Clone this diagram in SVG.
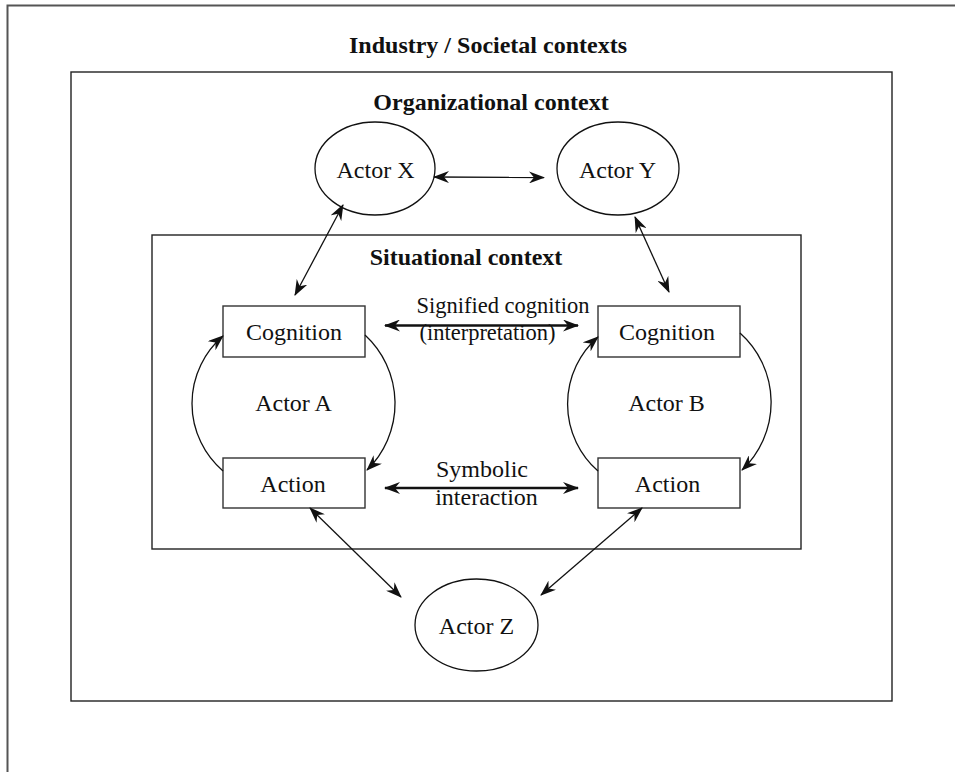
<svg xmlns="http://www.w3.org/2000/svg" width="955" height="772" viewBox="0 0 955 772">
<defs>
<style>
.frame{fill:none;stroke:#555;stroke-width:2}
.ctx{fill:none;stroke:#222;stroke-width:1.4}
.box{fill:#fff;stroke:#333;stroke-width:1.4}
.ell{fill:#fff;stroke:#111;stroke-width:1.3}
.t{font-family:"Liberation Serif","Times New Roman",serif;font-size:24px;fill:#111;text-anchor:middle}
.s{font-size:22.5px}
.b{font-weight:bold}
.c{fill:none;stroke:#111;stroke-width:1.3}
.thick{stroke-width:2.6}
</style>
<marker id="ah" viewBox="0 0 16 12" refX="15" refY="6" markerWidth="16" markerHeight="12" markerUnits="userSpaceOnUse" orient="auto-start-reverse">
<path d="M0,0 L16,6 L0,12 L5,6 z" fill="#111"/>
</marker>
</defs>
<rect width="955" height="772" fill="#fff"/>
<g id="industry">
<rect class="frame" x="7.5" y="5.5" width="960" height="800"/>
<text class="t b" x="488" y="53">Industry / Societal contexts</text>
</g>
<g id="organizational">
<rect class="ctx" x="71" y="72" width="821" height="629"/>
<text class="t b" x="491" y="110">Organizational context</text>
</g>
<g id="situational">
<rect class="ctx" x="152" y="235" width="649" height="314"/>
<text class="t b" x="466" y="265">Situational context</text>
</g>
<g id="actorX">
<ellipse class="ell" cx="375" cy="168.5" rx="60" ry="46.5"/>
<text class="t" x="375.5" y="178">Actor X</text>
</g>
<g id="actorY">
<ellipse class="ell" cx="618" cy="168.5" rx="61" ry="46.5"/>
<text class="t" x="617.5" y="178">Actor Y</text>
</g>
<g id="actorZ">
<ellipse class="ell" cx="476.5" cy="625" rx="61.5" ry="46"/>
<text class="t" x="476.5" y="634">Actor Z</text>
</g>
<g id="actorA">
<text class="t" x="293.5" y="411">Actor A</text>
</g>
<g id="actorB">
<text class="t" x="666.5" y="411">Actor B</text>
</g>
<g id="cognitionA">
<rect class="box" x="223" y="306" width="142" height="51"/>
<text class="t" x="294" y="340">Cognition</text>
</g>
<g id="actionA">
<rect class="box" x="223" y="458" width="142" height="50"/>
<text class="t" x="293" y="492">Action</text>
</g>
<g id="cognitionB">
<rect class="box" x="598" y="306" width="142" height="51"/>
<text class="t" x="667" y="340">Cognition</text>
</g>
<g id="actionB">
<rect class="box" x="598" y="458" width="142" height="50"/>
<text class="t" x="667.5" y="492">Action</text>
</g>
<g id="labels">
<text class="t s" x="503" y="313">Signified cognition</text>
<text class="t s" x="487.5" y="340">(interpretation)</text>
<text class="t" x="482" y="477">Symbolic</text>
<text class="t" x="486.5" y="505">interaction</text>
</g>
<g id="connectors">
<line class="c" x1="434" y1="177" x2="544" y2="177.5" marker-start="url(#ah)" marker-end="url(#ah)"/>
<line class="c" x1="343" y1="205" x2="295" y2="295" marker-start="url(#ah)" marker-end="url(#ah)"/>
<line class="c" x1="635" y1="217" x2="669" y2="292" marker-start="url(#ah)" marker-end="url(#ah)"/>
<line class="c thick" x1="385" y1="325.5" x2="578" y2="325.5" marker-start="url(#ah)" marker-end="url(#ah)"/>
<line class="c thick" x1="385" y1="488" x2="578" y2="488" marker-start="url(#ah)" marker-end="url(#ah)"/>
<line class="c" x1="310" y1="508" x2="401" y2="597" marker-start="url(#ah)" marker-end="url(#ah)"/>
<line class="c" x1="642" y1="508" x2="541" y2="595" marker-start="url(#ah)" marker-end="url(#ah)"/>
<path class="c" d="M223,471 A89,89 0 0,1 223,336" marker-end="url(#ah)"/>
<path class="c" d="M365,335 A93,93 0 0,1 367,470" marker-end="url(#ah)"/>
<path class="c" d="M598,471 A89,89 0 0,1 598,337" marker-end="url(#ah)"/>
<path class="c" d="M740,333 A93,93 0 0,1 742,470" marker-end="url(#ah)"/>
</g>
</svg>
